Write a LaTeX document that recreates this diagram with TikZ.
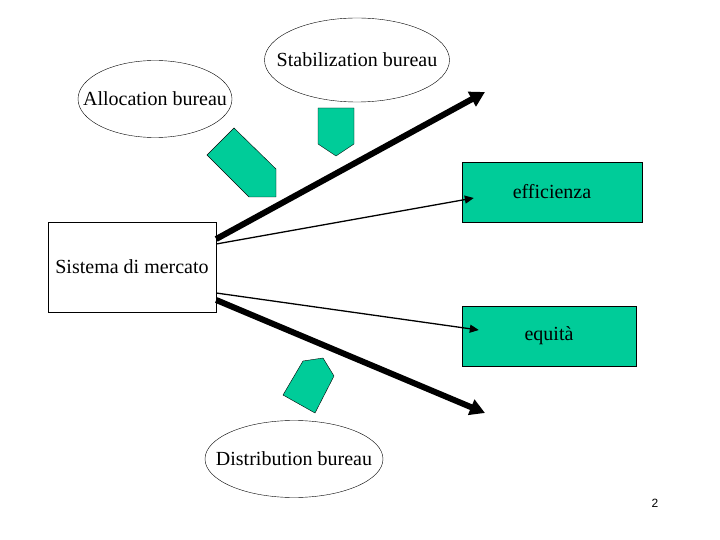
\documentclass[tikz,border=0pt]{standalone}
\usepackage{fontspec}
\setmainfont{Liberation Serif}
\newfontfamily\pagefont{Liberation Sans}
\usetikzlibrary{arrows.meta}

\definecolor{tealgreen}{RGB}{0,204,153}

\begin{document}
\begin{tikzpicture}[
  x=1pt, y=-1pt,
  every node/.style={font=\fontsize{20}{24}\selectfont},
  bureau/.style={inner sep=0pt},
  ring/.style={draw, thin},
  mktbox/.style={rectangle, draw, thin, inner sep=0pt,
                 minimum width=168pt, minimum height=90pt},
  goalbox/.style={rectangle, draw, thin, fill=tealgreen, inner sep=0pt,
                  minimum height=60pt},
  policyarrow/.style={draw, thin, fill=tealgreen},
  bigarrow/.style={-{Triangle[length=15pt,width=16pt]}, line width=6pt},
  thinarrow/.style={-{Triangle[length=9pt,width=8pt]}, line width=1.3pt}
]
\useasboundingbox (0,0) rectangle (720,540);

\node[bureau] (stab)  at (357,60)  {Stabilization bureau};
\node[bureau] (alloc) at (155,99)  {Allocation bureau};
\node[bureau] (distr) at (294,459) {Distribution bureau};
\draw[ring] (stab.center)  ellipse [x radius=92.5, y radius=42];
\draw[ring] (alloc.center) ellipse [x radius=77, y radius=38.5];
\draw[ring] (distr.center) ellipse [x radius=89, y radius=38.5];

\node[mktbox]                         (mkt) at (132,267) {Sistema di mercato};
\node[goalbox, minimum width=180pt]   (eff) at (552,192) {efficienza};
\node[goalbox, minimum width=174pt]   (equ) at (549,336) {equità};

\coordinate (stabtip)  at (485,92);
\coordinate (distrtip) at (485,413);

% block arrows of the bureaus
\path[policyarrow] (234,128) -- (207,155) -- (249,197) -- (276,197) -- (276,169) -- cycle;
\path[policyarrow] (318,108) -- (354,108) -- (354,144) -- (336,156) -- (318,144) -- cycle;
\path[policyarrow] (303,361) -- (323,358) -- (334,376) -- (315,413) -- (283,395) -- cycle;

\draw[bigarrow]  ([yshift=28pt]mkt.east)  -- (stabtip);
\draw[thinarrow] ([yshift=23pt]mkt.east)  -- ([xshift=12pt,yshift=-6pt]eff.west);
\draw[thinarrow] ([yshift=-26pt]mkt.east) -- ([xshift=17pt,yshift=6pt]equ.west);
\draw[bigarrow]  ([yshift=-33pt]mkt.east) -- (distrtip);

\node[font=\pagefont\fontsize{12}{14}\selectfont] (pagenum) at (655,503) {2};

\end{tikzpicture}
\end{document}
